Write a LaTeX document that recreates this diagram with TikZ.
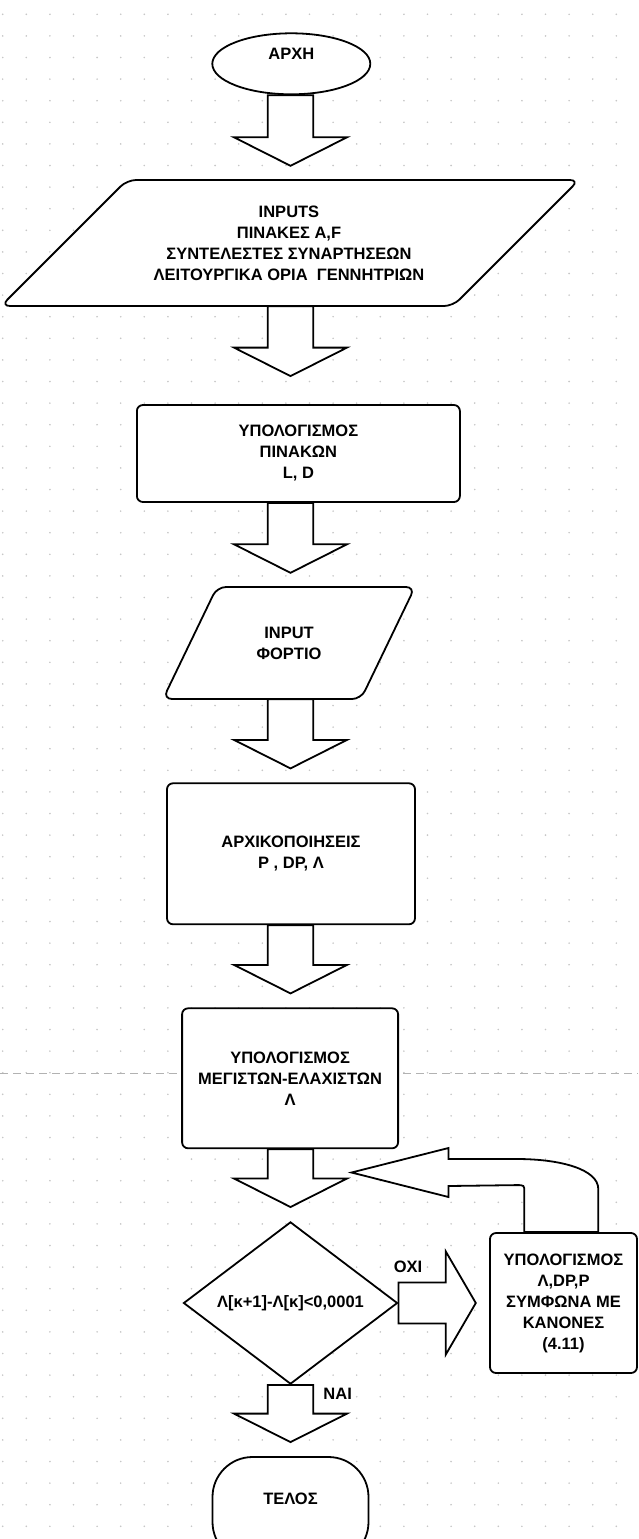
\documentclass[tikz,border=0pt]{standalone}
\usepackage{fontspec}
\setmainfont{Liberation Sans}
\usepackage{tikz}
\usetikzlibrary{shapes.geometric,calc}
\tikzset{shp/.style={draw=black, line width=1.8pt, fill=white},
  termell/.style={shp, ellipse, inner sep=0pt, text depth=20pt},
  termbox/.style={shp, rectangle, rounded corners=40pt, inner sep=0pt, text depth=22pt},
  procbox/.style={shp, rectangle, rounded corners=6pt, align=center, inner sep=0pt},
  decbox/.style={shp, diamond, inner sep=0pt},
  iotext/.style={align=center, inner sep=0pt},
  iobox/.style={shp, rounded corners=9pt},
  blkarrow/.style={draw=black, line width=1.8pt, fill=white},
  lbl/.style={inner sep=0pt}}
\newcommand{\downblk}[3][14]{%
  \coordinate (bt) at (col |- #2.south);
  \coordinate (bb) at ($(col |- #3.north)+(0,-#1)$);
  \draw[blkarrow] ($(bt)+(-22.8,0)$) -- ($(bb)+(-22.8,-28.5)$) -- ($(bb)+(-56.5,-28.5)$) -- (bb)
    -- ($(bb)+(56.5,-28.5)$) -- ($(bb)+(22.8,-28.5)$) -- ($(bt)+(22.8,0)$) -- cycle;}

\begin{document}
\begin{tikzpicture}[x=1pt, y=-1pt, font=\fontsize{16.5}{21}\selectfont\bfseries]
  \useasboundingbox (0,0) rectangle (638,1539);
  \clip (0,0) rectangle (638,1539);
  \foreach \i in {0,...,26}
    \foreach \j in {0,...,70}
      \fill[black!22] (2.7+23.6*\i, 14.3+21.6*\j) circle (0.9pt);
  \draw[black!30, line width=0.9pt, dash pattern=on 8pt off 5pt] (0,1073) -- (638,1073);
  \coordinate (col) at (290.5,0);

  \draw[iobox] (127,180) -- (579,180) -- (453,306) -- (1,306) -- cycle;
  \draw[iobox] (217,587) -- (415,587) -- (361,699) -- (163,699) -- cycle;

  \node[termell, minimum width=158pt, minimum height=61pt] (start) at (291.3,63.8) {ΑΡΧΗ};
  \node[iotext, minimum height=126pt] (in) at (289,243) {INPUTS\\ΠΙΝΑΚΕΣ A,F\\ΣΥΝΤΕΛΕΣΤΕΣ ΣΥΝΑΡΤΗΣΕΩΝ\\ΛΕΙΤΟΥΡΓΙΚΑ ΟΡΙΑ~ ΓΕΝΝΗΤΡΙΩΝ};
  \node[procbox, minimum width=323pt, minimum height=97pt] (calc1) at (298.4,453.5) {ΥΠΟΛΟΓΙΣΜΟΣ\\ΠΙΝΑΚΩΝ\\L, D};
  \node[iotext, minimum height=112pt] (load) at (289,643) {INPUT\\ΦΟΡΤΙΟ};
  \node[procbox, minimum width=248pt, minimum height=141pt] (init) at (291,853.8) {ΑΡΧΙΚΟΠΟΙΗΣΕΙΣ\\P , DP, Λ};
  \node[procbox, minimum width=216pt, minimum height=140pt] (extr) at (290.1,1078.3) {ΥΠΟΛΟΓΙΣΜΟΣ\\ΜΕΓΙΣΤΩΝ-ΕΛΑΧΙΣΤΩΝ\\Λ};
  \node[decbox, minimum width=214pt, minimum height=140pt] (dec) at (290.5,1303) {Λ[κ+1]-Λ[κ]<0,0001};
  \node[procbox, minimum width=147pt, minimum height=140pt] (upd) at (563.5,1303) {ΥΠΟΛΟΓΙΣΜΟΣ\\Λ,DP,P\\ΣΥΜΦΩΝΑ ΜΕ\\ΚΑΝΟΝΕΣ\\(4.11)};
  \node[termbox, minimum width=156pt, minimum height=105pt] (stop) at (290.5,1509.5) {ΤΕΛΟΣ};
  \node[lbl] (no) at (408,1266.7) {ΟΧΙ};
  \node[lbl] (yes) at (337.7,1394) {ΝΑΙ};

  \downblk{start}{in}
  \downblk[28]{in}{calc1}
  \downblk{calc1}{load}
  \downblk{load}{init}
  \downblk{init}{extr}
  \downblk{extr}{dec}
  \downblk{dec}{stop}

  \coordinate (rt) at ($(upd.west)+(-13.3,0)$);
  \draw[blkarrow] ($(dec.east)+(0,-20.5)$) -- ($(rt)+(-30,-20.5)$) -- ($(rt)+(-30,-51.5)$) -- (rt)
    -- ($(rt)+(-30,51.5)$) -- ($(rt)+(-30,20.5)$) -- ($(dec.east)+(0,20.5)$) -- cycle;

  \coordinate (backtip) at (351.5,1172.5);
  \draw[blkarrow] ($(upd.north)+(-39.2,0)$) -- ($(upd.north)+(-39.2,-40)$)
    .. controls ($(upd.north)+(-39.2,-47)$) .. ($(upd.north)+(-47,-47)$)
    -- ($(backtip)+(97,13.5)$) -- ($(backtip)+(97,24.5)$) -- (backtip) -- ($(backtip)+(97,-24.5)$)
    -- ($(backtip)+(97,-13.5)$) -- ($(backtip)+(165.5,-13.5)$)
    .. controls ($(backtip)+(208.5,-13.5)$) and ($(upd.north)+(34.8,-63)$) .. ($(upd.north)+(34.8,-43)$)
    -- ($(upd.north)+(34.8,0)$) -- cycle;
\end{tikzpicture}
\end{document}
